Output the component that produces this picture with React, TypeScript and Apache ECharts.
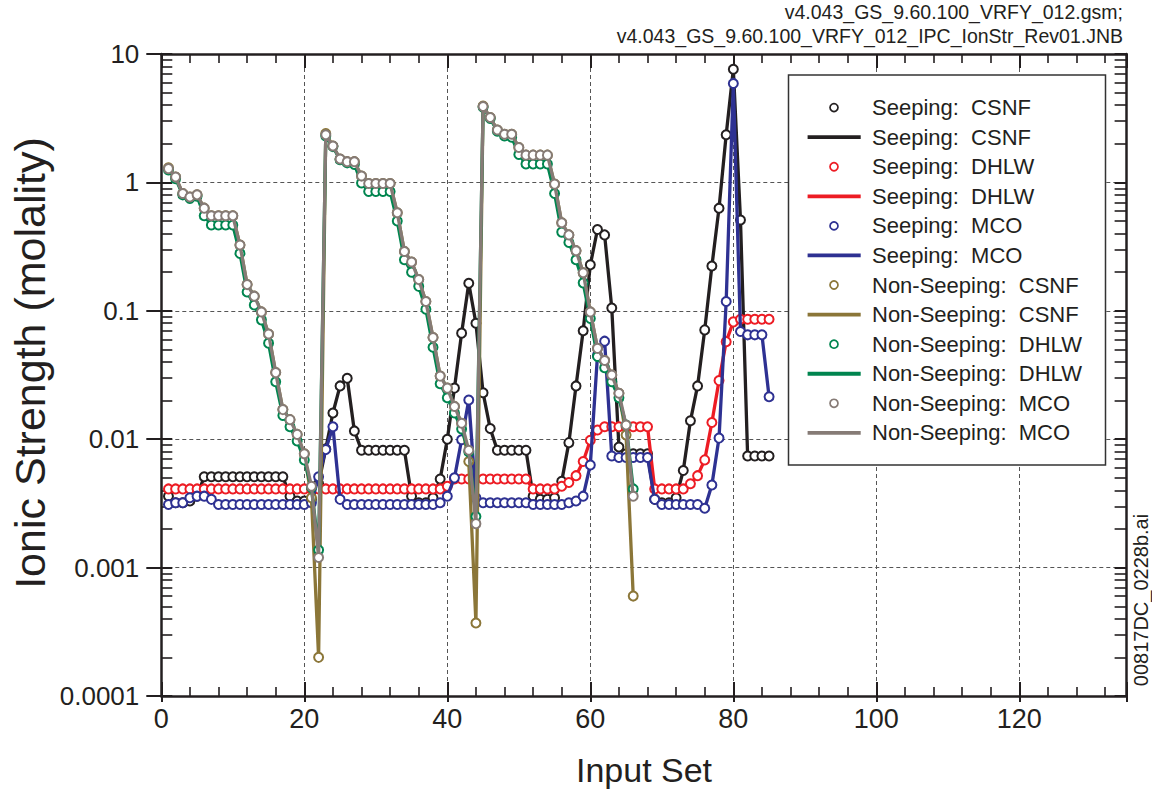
import React, { useEffect, useRef } from 'react';
import * as echarts from 'echarts';

// x = input set number (index + 1)
const seepingCSNF = [
  0.0036, 0.0032, 0.0032, 0.0033, 0.0036,
  0.0051, 0.0051, 0.0051, 0.0051, 0.0051, 0.0051, 0.0051, 0.0051, 0.0051, 0.0051, 0.0051, 0.0051,
  0.0036, 0.0033, 0.0033, 0.0034, 0.0045,
  0.0084, 0.016, 0.026, 0.0298, 0.0116,
  0.0082, 0.0082, 0.0082, 0.0082, 0.0082, 0.0082, 0.0082,
  0.0036, 0.0032, 0.0032, 0.0035,
  0.0049, 0.010, 0.025, 0.067, 0.164, 0.080, 0.023, 0.0121,
  0.0082, 0.0082, 0.0082, 0.0082, 0.0082,
  0.0036, 0.0034, 0.0034, 0.0035,
  0.0047, 0.0094, 0.026, 0.070, 0.228, 0.43, 0.39, 0.105,
  0.0087, 0.0077, 0.0077, 0.0077, 0.0077,
  0.0034, 0.0032, 0.0032, 0.0035,
  0.0057, 0.0139, 0.026, 0.071, 0.223, 0.63, 2.35, 7.6, 0.51,
  0.0074, 0.0074, 0.0074, 0.0074,
];

const seepingDHLW = [
  0.0041, 0.0041, 0.0041, 0.0041, 0.0041, 0.0041, 0.0041, 0.0041, 0.0041, 0.0041,
  0.0041, 0.0041, 0.0041, 0.0041, 0.0041, 0.0041, 0.0041, 0.0041, 0.0041, 0.0041,
  0.0041, 0.0041, 0.0041, 0.0041, 0.0041, 0.0041, 0.0041, 0.0041, 0.0041, 0.0041,
  0.0041, 0.0041, 0.0041, 0.0041, 0.0041, 0.0041, 0.0041, 0.0041, 0.0041, 0.0043,
  0.0049, 0.0049, 0.0049, 0.0049, 0.0049, 0.0049, 0.0049, 0.0049, 0.0049, 0.0049, 0.0049,
  0.0041, 0.0041, 0.0041, 0.0041,
  0.0043, 0.0046, 0.0052, 0.0067, 0.0098, 0.0118,
  0.0125, 0.0125, 0.0125, 0.0125, 0.0125, 0.0125, 0.0125,
  0.0041, 0.0041, 0.0041, 0.0041, 0.0041,
  0.0045, 0.0052, 0.0069, 0.0135, 0.0286, 0.0575, 0.082,
  0.086, 0.086, 0.086, 0.086, 0.086,
];

const seepingMCO = [
  0.0031, 0.0032, 0.0032, 0.0035, 0.0036, 0.0036, 0.0034,
  0.0031, 0.0031, 0.0031, 0.0031, 0.0031, 0.0031, 0.0031, 0.0031, 0.0031, 0.0031, 0.0031, 0.0031, 0.0031,
  0.0032, 0.0051, 0.0083, 0.0125, 0.0034,
  0.0031, 0.0031, 0.0031, 0.0031, 0.0031, 0.0031, 0.0031, 0.0031, 0.0031, 0.0031, 0.0031, 0.0031, 0.0031,
  0.0032, 0.0036, 0.0050, 0.0099, 0.0202, 0.0035,
  0.0032, 0.0032, 0.0032, 0.0032, 0.0032, 0.0032, 0.0032,
  0.0031, 0.0031, 0.0031, 0.0031, 0.0031,
  0.0032, 0.0033, 0.0036, 0.0063, 0.045, 0.058, 0.0074,
  0.0072, 0.0072, 0.0072, 0.0072, 0.0072,
  0.0034, 0.0031, 0.0031, 0.0031, 0.0031, 0.0031, 0.0031,
  0.0029, 0.0044, 0.0102, 0.118, 5.9, 0.069,
  0.065, 0.065, 0.065, 0.0214,
];

const nonSeepingCSNF = [
  1.3, 1.1, 0.82, 0.77, 0.80, 0.63, 0.55, 0.55, 0.55, 0.55, 0.325,
  0.16, 0.13, 0.098, 0.066, 0.033, 0.017, 0.0142, 0.0109, 0.0077, 0.0035, 0.0002,
  2.4, 1.92, 1.52, 1.45, 1.45, 1.12, 0.98, 0.98, 0.98, 0.98, 0.58,
  0.29, 0.24, 0.175, 0.118, 0.062, 0.031, 0.025, 0.018, 0.0133, 0.0067, 0.00037,
  3.94, 3.2, 2.56, 2.37, 2.37, 1.87, 1.63, 1.63, 1.63, 1.63, 0.97,
  0.485, 0.39, 0.294, 0.198, 0.098, 0.051, 0.041, 0.0316, 0.0228, 0.0108, 0.0006,
];

const nonSeepingDHLW = [
  1.25, 1.07, 0.80, 0.75, 0.78, 0.55, 0.466, 0.466, 0.466, 0.466, 0.28,
  0.14, 0.111, 0.085, 0.056, 0.028, 0.0153, 0.0125, 0.0097, 0.0069, 0.0042, 0.00137,
  2.3, 1.9, 1.5, 1.42, 1.38, 0.99, 0.85, 0.85, 0.85, 0.85, 0.5,
  0.25, 0.2, 0.155, 0.103, 0.052, 0.027, 0.021, 0.016, 0.012, 0.008, 0.0025,
  3.85, 3.15, 2.5, 2.3, 2.25, 1.65, 1.39, 1.39, 1.39, 1.39, 0.82,
  0.41, 0.34, 0.25, 0.165, 0.087, 0.044, 0.036, 0.028, 0.021, 0.0129, 0.0041,
];

const nonSeepingMCO = [
  1.28, 1.1, 0.82, 0.77, 0.80, 0.63, 0.55, 0.55, 0.55, 0.55, 0.325,
  0.16, 0.13, 0.098, 0.066, 0.033, 0.017, 0.0142, 0.0109, 0.0077, 0.0043, 0.0012,
  2.35, 1.92, 1.52, 1.45, 1.45, 1.12, 0.98, 0.98, 0.98, 0.98, 0.58,
  0.29, 0.24, 0.175, 0.118, 0.062, 0.031, 0.025, 0.018, 0.0133, 0.0082, 0.0022,
  3.9, 3.2, 2.56, 2.37, 2.37, 1.87, 1.63, 1.63, 1.63, 1.63, 0.97,
  0.485, 0.39, 0.294, 0.198, 0.098, 0.051, 0.041, 0.0316, 0.0228, 0.0129, 0.0036,
];

const seriesNames = [
  'Seeping:  CSNF', 'Seeping:  DHLW', 'Seeping:  MCO',
  'Non-Seeping:  CSNF', 'Non-Seeping:  DHLW', 'Non-Seeping:  MCO',
];
const seriesColors = ['#231f20', '#ed1c24', '#2e3192', '#8b7638', '#00854f', '#867b76'];
const seriesValues = [seepingCSNF, seepingDHLW, seepingMCO, nonSeepingCSNF, nonSeepingDHLW, nonSeepingMCO];

const yTickLabels = ['0.0001', '0.001', '0.01', '0.1', '1', '10'];
const xTickLabels = ['0', '20', '40', '60', '80', '100', '120'];

const titleLines = ['v4.043_GS_9.60.100_VRFY_012.gsm;', 'v4.043_GS_9.60.100_VRFY_012_IPC_IonStr_Rev01.JNB'];
const xTitle = 'Input Set';
const yTitle = 'Ionic Strength (molality)';
const sideNote = '00817DC_0228b.ai';

const FONT = '"Liberation Sans", Arial, Helvetica, sans-serif';
const INK = '#231f20';

const GRID_LEFT = 161.3;
const GRID_TOP = 54;
const GRID_W = 965.3;
const GRID_H = 642;
const X_MAX = 135;

export default function App() {
  const ref = useRef<HTMLDivElement>(null);

  useEffect(() => {
    if (!ref.current) return;
    const chart = echarts.init(ref.current, null, { renderer: 'svg' });

    const baseX = (extra: any) => ({
      type: 'value',
      min: 0,
      max: X_MAX,
      gridIndex: 0,
      axisLine: { show: false, onZero: false },
      axisLabel: { show: false },
      splitLine: { show: false },
      ...extra,
    });
    const baseY = (extra: any) => ({
      type: 'log',
      logBase: 10,
      min: 0.0001,
      max: 10,
      gridIndex: 0,
      axisLine: { show: false, onZero: false },
      axisLabel: { show: false },
      splitLine: { show: false },
      ...extra,
    });
    const tickStyle = { color: INK, width: 2 };
    const minorStyle = { color: INK, width: 1.6 };

    const xAxes = [
      baseX({
        position: 'bottom',
        interval: 20,
        axisLine: { show: true, onZero: false, lineStyle: { color: INK, width: 2.5 } },
        axisTick: { show: true, inside: true, length: 14, lineStyle: tickStyle },
        axisLabel: {
          show: true,
          margin: 9,
          fontSize: 27,
          fontFamily: FONT,
          color: INK,
          formatter: (v: number) => {
            const s = String(Math.round(v));
            return xTickLabels.indexOf(s) >= 0 && Math.abs(v - Math.round(v)) < 1e-6 ? s : '';
          },
        },
        splitLine: { show: true, lineStyle: { color: '#555', width: 1, type: [4, 3] } },
      }),
      baseX({
        position: 'bottom',
        interval: 4,
        axisTick: { show: true, inside: true, length: 9, lineStyle: minorStyle },
      }),
      baseX({
        position: 'bottom',
        interval: 20,
        axisTick: { show: true, inside: false, length: 6, lineStyle: tickStyle },
      }),
      baseX({
        position: 'top',
        interval: 20,
        axisLine: { show: true, onZero: false, lineStyle: { color: INK, width: 2.5 } },
        axisTick: { show: true, inside: true, length: 14, lineStyle: tickStyle },
      }),
      baseX({
        position: 'top',
        interval: 4,
        axisTick: { show: true, inside: true, length: 9, lineStyle: minorStyle },
      }),
    ];

    const yAxes = [
      baseY({
        position: 'left',
        axisLine: { show: true, onZero: false, lineStyle: { color: INK, width: 2.5 } },
        axisTick: { show: true, inside: true, length: 11, lineStyle: tickStyle },
        minorTick: { show: true, splitNumber: 9, length: 11, lineStyle: minorStyle },
        axisLabel: {
          show: true,
          margin: 22,
          fontSize: 26,
          fontFamily: FONT,
          color: INK,
          formatter: (v: number) => {
            const k = Math.round(Math.log10(v)) + 4;
            return yTickLabels[k] ?? '';
          },
        },
        splitLine: { show: true, lineStyle: { color: '#555', width: 1, type: [4, 3] } },
      }),
      baseY({
        position: 'left',
        axisTick: { show: true, inside: false, length: 15, lineStyle: tickStyle },
      }),
      baseY({
        position: 'right',
        axisLine: { show: true, onZero: false, lineStyle: { color: INK, width: 2.5 } },
        axisTick: { show: true, inside: true, length: 12, lineStyle: tickStyle },
        minorTick: { show: true, splitNumber: 9, length: 12, lineStyle: minorStyle },
      }),
    ];

    const series = seriesValues.map((vals, si) => ({
      type: 'line',
      name: seriesNames[si],
      xAxisIndex: 0,
      yAxisIndex: 0,
      data: vals.map((v, i) => [i + 1, v]),
      symbol: 'emptyCircle',
      symbolSize: 9,
      showSymbol: true,
      showAllSymbol: true,
      lineStyle: { color: seriesColors[si], width: 3.3 },
      itemStyle: { color: seriesColors[si], borderColor: seriesColors[si], borderWidth: 1.8 },
      emphasis: { disabled: true },
      silent: true,
      z: 2 + si,
    }));

    const legendTop = 107.6;
    const legendStep = 29.57;
    const legendItems: any[] = [
      {
        type: 'rect',
        shape: { x: 788.5, y: 75, width: 317, height: 390 },
        style: { fill: '#fff', stroke: '#333', lineWidth: 1.5 },
        z: 50,
      },
    ];
    for (let i = 0; i < 12; i++) {
      const si = Math.floor(i / 2);
      const y = legendTop + legendStep * i;
      const color = seriesColors[si];
      if (i % 2 === 0) {
        legendItems.push({
          type: 'circle',
          shape: { cx: 834, cy: y, r: 4 },
          style: { fill: '#fff', stroke: color, lineWidth: 1.7 },
          z: 51,
        });
      } else {
        legendItems.push({
          type: 'line',
          shape: { x1: 807.6, y1: y, x2: 860.7, y2: y },
          style: { stroke: color, lineWidth: 3.8 },
          z: 51,
        });
      }
      legendItems.push({
        type: 'text',
        x: 872,
        y: y,
        style: {
          text: seriesNames[si],
          fontSize: 22,
          fontFamily: FONT,
          fill: INK,
          align: 'left',
          textAlign: 'left',
          verticalAlign: 'middle',
          textVerticalAlign: 'middle',
        },
        z: 51,
      });
    }

    const texts: any[] = [
      {
        type: 'text',
        x: 1123,
        y: 12,
        style: {
          text: titleLines[0], fontSize: 19.5, fontFamily: FONT, fill: INK,
          align: 'right', textAlign: 'right', verticalAlign: 'middle', textVerticalAlign: 'middle',
        },
      },
      {
        type: 'text',
        x: 1123,
        y: 36,
        style: {
          text: titleLines[1], fontSize: 19.5, fontFamily: FONT, fill: INK,
          align: 'right', textAlign: 'right', verticalAlign: 'middle', textVerticalAlign: 'middle',
        },
      },
      {
        type: 'text',
        x: 644,
        y: 770,
        style: {
          text: xTitle, fontSize: 34, fontFamily: FONT, fill: INK,
          align: 'center', textAlign: 'center', verticalAlign: 'middle', textVerticalAlign: 'middle',
        },
      },
      {
        type: 'text',
        x: 30,
        y: 363,
        rotation: Math.PI / 2,
        style: {
          text: yTitle, fontSize: 43, fontFamily: FONT, fill: INK,
          align: 'center', textAlign: 'center', verticalAlign: 'middle', textVerticalAlign: 'middle',
        },
      },
      {
        type: 'text',
        x: 1141,
        y: 600,
        rotation: Math.PI / 2,
        style: {
          text: sideNote, fontSize: 20, fontFamily: FONT, fill: INK,
          align: 'center', textAlign: 'center', verticalAlign: 'middle', textVerticalAlign: 'middle',
        },
      },
    ];

    chart.setOption({
      animation: false,
      backgroundColor: '#ffffff',
      textStyle: { fontFamily: FONT },
      grid: {
        left: GRID_LEFT,
        top: GRID_TOP,
        width: GRID_W,
        height: GRID_H,
        containLabel: false,
        outerBoundsMode: 'none',
      },
      xAxis: xAxes,
      yAxis: yAxes,
      series,
      graphic: [...legendItems, ...texts],
    });

    return () => {
      chart.dispose();
    };
  }, []);

  return (
    <div
      ref={ref}
      style={{ position: 'absolute', left: 0, top: 0, width: 1152, height: 792, background: '#fff' }}
    />
  );
}
